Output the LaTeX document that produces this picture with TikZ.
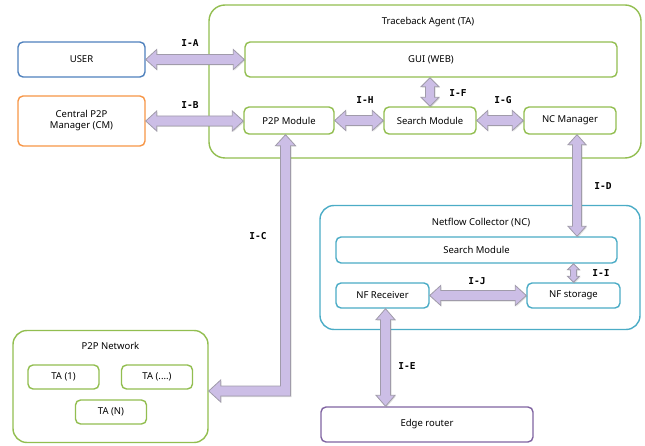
\documentclass[tikz,border=0pt]{standalone}
\usepackage{fontspec}
\setmainfont{Noto Sans}
\newfontfamily\lblfont{DejaVu Sans Mono}
\usetikzlibrary{calc,shadows}
\definecolor{grn}{RGB}{146,190,80}
\definecolor{blu}{RGB}{79,129,189}
\definecolor{org}{RGB}{247,150,70}
\definecolor{teal2}{RGB}{75,172,198}
\definecolor{purp}{RGB}{128,100,162}
\definecolor{lav}{RGB}{204,190,230}
\definecolor{lavb}{RGB}{160,155,170}
\tikzset{
  box/.style={draw=grn, line width=1.4pt, rounded corners=5pt, fill=white, inner sep=0pt, align=center},
  container/.style={box, rounded corners=16pt},
  fatarr/.style={fill=lav, draw=lavb, line width=0.8pt, line join=miter, drop shadow={opacity=0.25, shadow xshift=1pt, shadow yshift=-1pt}},
  lbl/.style={font=\lblfont\bfseries\fontsize{9.5}{10}\selectfont},
  ttl/.style={inner sep=0pt}
}
% horizontal double arrow: #1 head half width, #2 shaft half width, #3 head length, #4 left point, #5 right point
\newcommand{\fatH}[5]{%
  \path[fatarr] let \p1=#4, \p2=#5 in
   (\x1,\y1) -- (\x1+#3,\y1+#1) -- (\x1+#3,\y1+#2) -- (\x2-#3,\y1+#2) -- (\x2-#3,\y1+#1) -- (\x2,\y1)
   -- (\x2-#3,\y1-#1) -- (\x2-#3,\y1-#2) -- (\x1+#3,\y1-#2) -- (\x1+#3,\y1-#1) -- cycle;}
% vertical double arrow: #4 top point, #5 bottom point
\newcommand{\fatV}[5]{%
  \path[fatarr] let \p1=#4, \p2=#5 in
   (\x1,\y1) -- (\x1+#1,\y1-#3) -- (\x1+#2,\y1-#3) -- (\x1+#2,\y2+#3) -- (\x1+#1,\y2+#3) -- (\x1,\y2)
   -- (\x1-#1,\y2+#3) -- (\x1-#2,\y2+#3) -- (\x1-#2,\y1-#3) -- (\x1-#1,\y1-#3) -- cycle;}
\begin{document}
\begin{tikzpicture}[x=1pt,y=-1pt,font=\fontsize{9.5}{11}\selectfont]
\useasboundingbox (0,0) rectangle (645,446);

% containers
\node[container, minimum width=432pt, minimum height=153pt] (ta) at (425,81.5) {};
\node[ttl] (tatitle) at (428,22) {Traceback Agent (TA)};
\node[container, draw=teal2, rounded corners=14pt, minimum width=320pt, minimum height=124pt] (nc) at (480,267.5) {};
\node[ttl] (nctitle) at (481,222.5) {Netflow Collector (NC)};
\node[container, rounded corners=14pt, minimum width=195pt, minimum height=112pt] (p2pnet) at (110.5,386.5) {};
\node[ttl] (p2pnettitle) at (110.5,346) {P2P Network};

% outer boxes
\node[box, draw=blu, minimum width=127pt, minimum height=35pt] (user) at (81.5,59.5) {USER};
\node[box, draw=org, minimum width=127pt, minimum height=50pt] (cm) at (81.5,121) {Central P2P\\Manager (CM)};
\node[box, draw=purp, minimum width=212pt, minimum height=35pt] (edge) at (427,424.5) {Edge router};

% TA inner
\node[box, minimum width=372pt, minimum height=35pt] (gui) at (431,59.5) {GUI (WEB)};
\node[box, minimum width=90pt, minimum height=27pt] (p2p) at (289,120.5) {P2P Module};
\node[box, minimum width=92pt, minimum height=27pt] (search) at (430,120.5) {Search Module};
\node[box, minimum width=92pt, minimum height=27pt] (ncm) at (570,120.5) {NC Manager};

% NC inner
\node[box, draw=teal2, minimum width=281pt, minimum height=26pt] (ncsearch) at (476.5,250) {Search Module};
\node[box, draw=teal2, minimum width=93pt, minimum height=25pt] (nfr) at (382.5,295.5) {NF Receiver};
\node[box, draw=teal2, minimum width=93pt, minimum height=25pt] (nfs) at (573.5,295.5) {NF storage};

% P2P network inner
\node[box, minimum width=71pt, minimum height=24pt] (ta1) at (63.5,377) {TA (1)};
\node[box, minimum width=71pt, minimum height=24pt] (tadots) at (157,377) {TA (....)};
\node[box, minimum width=71pt, minimum height=24pt] (taN) at (111,412) {TA (N)};

% arrows
\fatH{10pt}{5pt}{11pt}{(user.east)}{(gui.west |- user.east)}
\fatH{10pt}{5pt}{11pt}{(cm.east)}{(p2p.west |- cm.east)}
\fatH{10pt}{5pt}{11pt}{(p2p.east)}{(search.west)}
\fatH{10pt}{5pt}{11pt}{(search.east)}{(ncm.west)}
\fatH{10pt}{5pt}{11pt}{(nfr.east)}{(nfs.west)}
\fatV{9pt}{4.5pt}{9pt}{(search.north |- gui.south)}{(search.north)}
\fatV{9pt}{4.5pt}{10pt}{([xshift=7pt]ncm.south)}{([xshift=7pt]ncm.south |- ncsearch.north)}
\fatV{6pt}{3pt}{6pt}{(nfs.north |- ncsearch.south)}{(nfs.north)}
\fatV{9.5pt}{5pt}{11pt}{([xshift=3pt]nfr.south)}{([xshift=3pt]nfr.south |- edge.north)}
% elbow arrow P2P Module -> P2P Network
\path[fatarr] let \p1=([xshift=-3.5pt]p2p.south), \p2=([yshift=-4.5pt]p2pnet.east) in
  (\x1,\y1) -- (\x1+10pt,\y1-11pt) -- (\x1+5pt,\y1-11pt) -- (\x1+5pt,\y2-5pt) -- (\x2+12pt,\y2-5pt)
  -- (\x2+12pt,\y2-11pt) -- (\x2,\y2) -- (\x2+12pt,\y2+11pt) -- (\x2+12pt,\y2+5pt) -- (\x1-5pt,\y2+5pt)
  -- (\x1-5pt,\y1-11pt) -- (\x1-10pt,\y1-11pt) -- cycle;

% labels
\node[lbl] (lA) at (190,43) {I-A};
\node[lbl] (lB) at (190,105) {I-B};
\node[lbl] (lH) at (365,100) {I-H};
\node[lbl] (lF) at (458,93) {I-F};
\node[lbl] (lG) at (503,100) {I-G};
\node[lbl] (lD) at (603,186) {I-D};
\node[lbl] (lC) at (258,236) {I-C};
\node[lbl] (lI) at (601,273) {I-I};
\node[lbl] (lJ) at (477,281) {I-J};
\node[lbl] (lE) at (407,366) {I-E};
\end{tikzpicture}
\end{document}
